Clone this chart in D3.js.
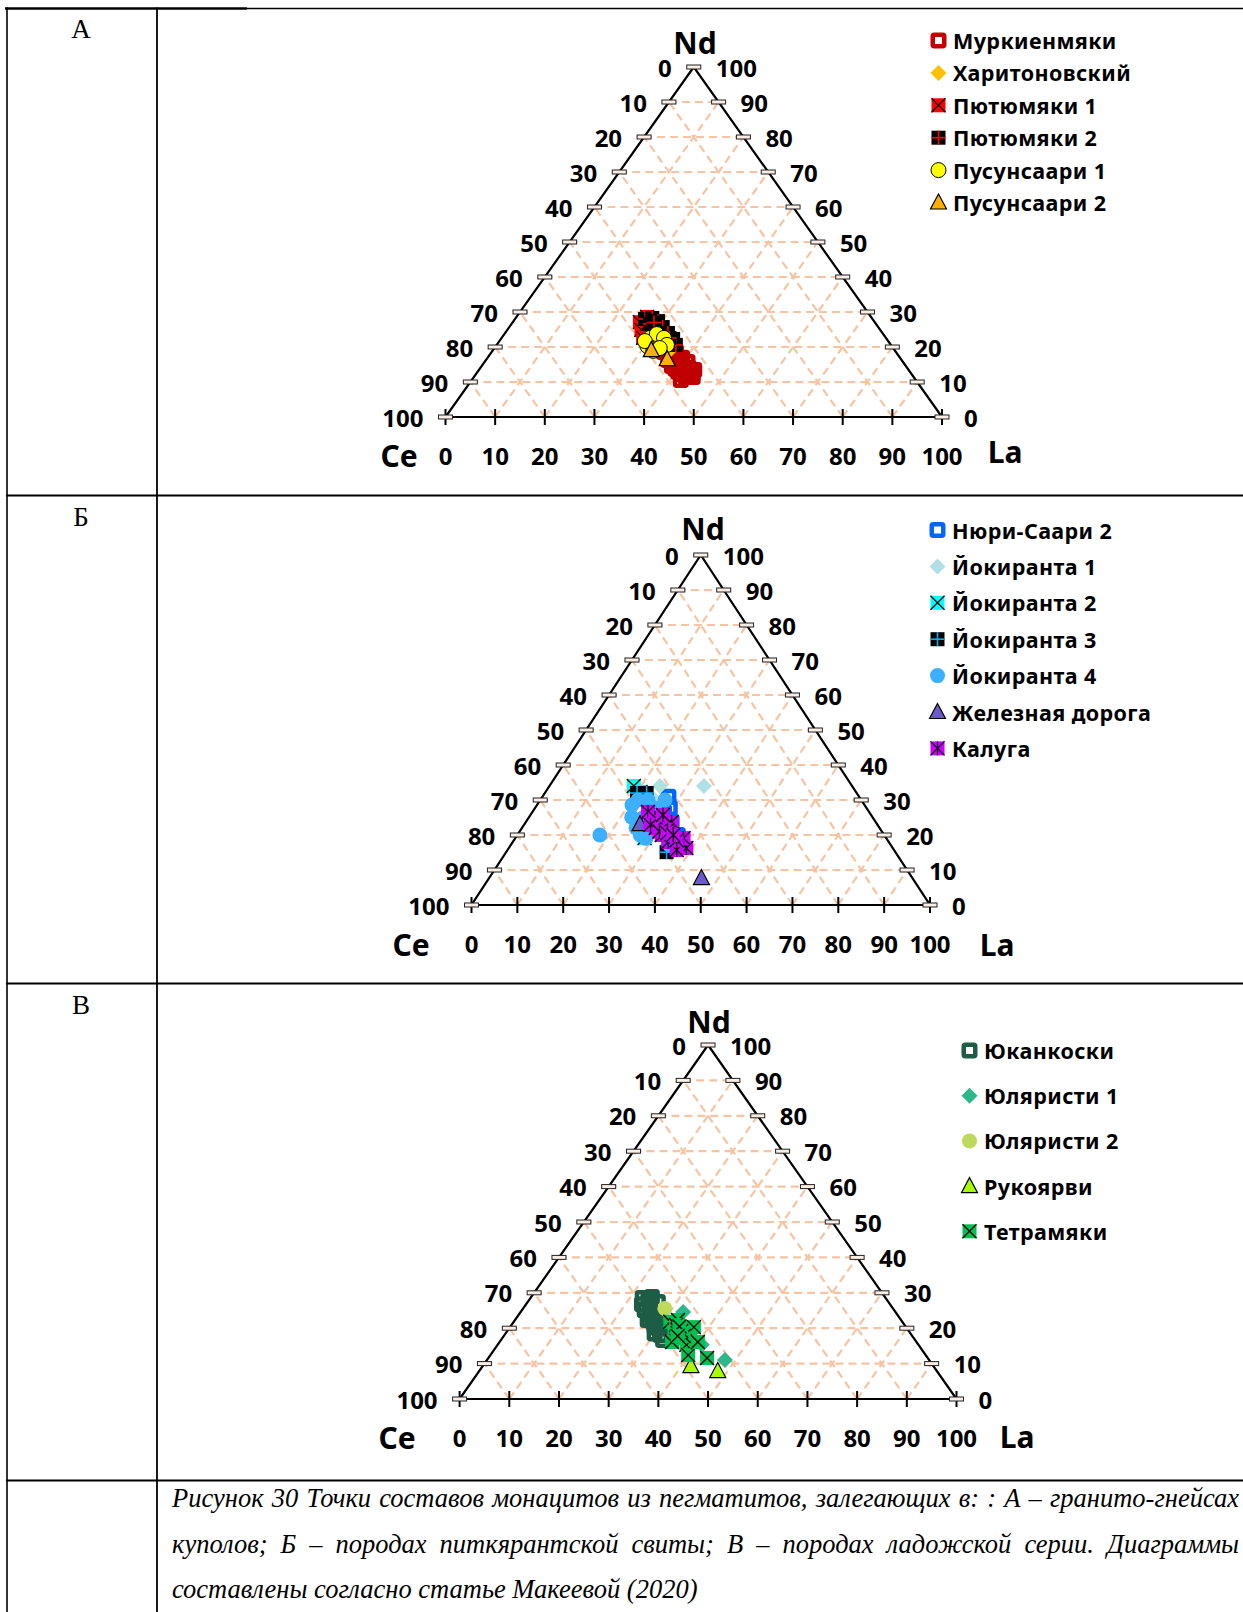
<!DOCTYPE html>
<html>
<head>
<meta charset="utf-8">
<script src="https://cdnjs.cloudflare.com/ajax/libs/d3/7.8.5/d3.min.js"></script>
<style>
    body { margin: 0; background: #fff; }
    svg { display: block; }
</style>
</head>
<body>
<div id="chart"></div>
<script>
// ---- data: every point is [Ce, La, Nd] (%) ----
var ticks = [0, 10, 20, 30, 40, 50, 60, 70, 80, 90, 100];

// Panel A
var namesA = ["Муркиенмяки", "Харитоновский", "Пютюмяки 1", "Пютюмяки 2", "Пусунсаари 1", "Пусунсаари 2"];
var murkienmyaki = [[46.7,34.7,18.6],[46.1,36.5,17.4],[45.6,38.1,16.3],[45.3,39.6,15.1],[44.8,41.2,14.0],
    [44.3,42.8,12.9],[44.5,44.1,11.4],[45.9,42.7,11.4],[46.7,40.4,12.9],[47.1,38.3,14.6],[47.0,36.7,16.3],
    [44.3,37.1,18.6],[43.9,39.2,16.9],[43.4,40.9,15.7],[43.2,43.4,13.4],[46.5,32.9,20.6],[47.3,42.1,10.6],
    [45.5,37.5,17.0],[44.6,40.0,15.4],[44.0,42.0,14.0],[45.0,43.2,11.8],[46.3,41.4,12.3],[46.8,39.4,13.8],
    [46.0,35.5,18.5]];
var kharitonovsky = [[45.8,32.2,22.0],[45.3,35.6,19.1]];
var pyutyumyaki1 = [[47.3,25.6,27.1],[48.1,27.0,24.9],[45.1,26.3,28.6],[48.9,28.5,22.6],[44.8,29.2,26.0]];
var pyutyumyaki2 = [[45.8,26.2,28.0],[44.2,27.5,28.3],[43.5,29.1,27.4],[43.4,30.9,25.7],[43.2,32.8,24.0],
    [43.0,34.7,22.3],[43.3,36.1,20.6],[45.5,27.9,26.6],[44.5,28.5,27.0],[43.6,33.8,22.6]];
var pusunsaari1 = [[47.5,29.9,22.6],[45.6,30.7,23.7],[44.7,32.7,22.6],[45.1,34.3,20.6],[49.2,30.5,20.3],
    [48.7,32.4,18.9],[47.0,33.3,19.7],[49.0,29.3,21.7]];
var pusunsaari2 = [[49.0,31.9,19.1],[47.1,36.4,16.5]];

// Panel B
var namesB = ["Нюри-Саари 2", "Йокиранта 1", "Йокиранта 2", "Йокиранта 3", "Йокиранта 4", "Железная дорога", "Калуга"];
var nyuriSaari2 = [[41.6,27.5,30.9],[42.9,29.4,27.7],[44.7,28.7,26.6],[44.5,31.8,23.7],[45.0,35.0,20.0]];
var yokiranta1 = [[32.3,33.7,34.0],[41.9,24.1,34.0],[45.0,25.0,30.0]];
var yokiranta2 = [[47.6,18.4,34.0],[47.0,20.7,32.3],[52.7,28.2,19.1],[50.6,25.1,24.3]];
var yokiranta3 = [[47.9,20.1,32.0],[45.8,22.2,32.0],[49.9,35.0,15.1],[48.2,30.4,21.4],[46.3,35.1,18.6]];
var yokiranta4 = [[62.0,18.0,20.0],[50.7,20.7,28.6],[48.7,21.3,30.0],[46.5,23.5,30.0],[46.2,26.1,27.7],
    [52.5,22.4,25.1],[53.1,24.9,22.0],[53.2,26.8,20.0],[52.4,28.5,19.1],[50.1,25.0,24.9],[48.8,27.5,23.7],
    [48.2,34.7,17.1],[42.8,27.2,30.0]];
var zheleznayaDoroga = [[46.0,46.3,7.7],[51.7,25.2,23.1]];
var kaluga = [[48.2,25.2,26.6],[47.5,27.6,24.9],[47.1,29.2,23.7],[46.8,31.2,22.0],[46.2,32.9,20.9],
    [46.1,34.8,19.1],[45.7,36.6,17.7],[45.0,38.7,16.3],[44.2,36.7,19.1],[48.5,31.5,20.0],[48.8,29.2,22.0],
    [48.1,33.9,18.0],[44.5,31.8,23.7],[49.5,27.6,22.9],[47.4,36.9,15.7],[45.4,28.9,25.7],[46.5,32.0,21.5],
    [46.3,33.5,20.2],[48.5,30.5,21.0],[46.0,35.5,18.5],[47.0,32.5,20.5],[46.0,34.0,20.0]];

// Panel C
var namesC = ["Юканкоски", "Юляристи 1", "Юляристи 2", "Рукоярви", "Тетрамяки"];
var yukankoski = [[48.9,22.6,28.5],[46.9,24.3,28.8],[46.4,26.2,27.4],[50.2,24.7,25.1],[51.0,26.7,22.3],
    [50.6,29.1,20.3],[50.6,31.3,18.1],[48.4,25.0,26.6],[49.9,23.3,26.8],[50.7,32.6,16.7],[49.5,26.8,23.7],
    [48.0,24.0,28.0],[49.0,25.5,25.5],[50.0,27.5,22.5],[50.2,28.3,21.5],[49.0,28.0,23.0],[51.5,30.0,18.5],
    [50.0,30.0,20.0]];
var yulyaristi1 = [[42.7,32.7,24.6],[41.1,47.9,11.0],[43.6,41.1,15.3]];
var yulyaristi2 = [[45.9,28.5,25.6]];
var rukoyarvi = [[48.8,41.9,9.3],[44.1,48.0,7.9]];
var tetramyaki = [[46.7,31.5,21.8],[44.9,32.8,22.3],[44.7,35.2,20.1],[44.5,37.4,18.1],[47.0,33.5,19.5],
    [47.0,35.8,17.2],[49.2,34.7,16.1],[46.7,38.0,15.3],[47.8,39.8,12.4],[44.4,44.0,11.6],[46.0,33.1,20.9],
    [45.9,35.5,18.6],[42.7,37.0,20.3],[44.0,39.9,16.1],[46.5,34.5,19.0],[46.2,34.0,19.8],[46.0,36.2,17.8],
    [46.2,34.9,18.9],[46.4,34.2,19.4],[45.8,35.0,19.2],[46.8,34.6,18.6],[45.5,34.0,20.5],[47.2,35.0,17.8]];

var captionLines = [
    "Рисунок 30 Точки составов монацитов из пегматитов, залегающих в: : А – гранито-гнейсах",
    "куполов; Б – породах питкярантской свиты; В – породах ладожской серии. Диаграммы",
    "составлены согласно статье Макеевой (2020)"
];

var LABEL_FONT = "'Noto Sans', sans-serif";

// draw one Excel-like marker into a <g> selection
function drawMarker(sel, st) {
    var h = 7;
    if (st.shape == "hollowSquare") {
        sel.append("rect").attr("x", -5.75).attr("y", -5.75).attr("width", 11.5).attr("height", 11.5)
            .attr("rx", 1.5).attr("fill", "none").attr("stroke", st.color).attr("stroke-width", 4.5);
    } else if (st.shape == "diamond") {
        sel.append("path").attr("d", "M0,-8L8,0L0,8L-8,0Z").attr("fill", st.color);
    } else if (st.shape == "circle") {
        sel.append("circle").attr("r", 7.5).attr("fill", st.color)
            .attr("stroke", st.stroke || "none").attr("stroke-width", 1);
    } else if (st.shape == "triangle") {
        sel.append("path").attr("d", "M0,-8.5L8,6.5L-8,6.5Z").attr("fill", st.color)
            .attr("stroke", "#000").attr("stroke-width", 1.2);
    } else {
        // filled square with a cross drawn on it
        sel.append("rect").attr("x", -h).attr("y", -h).attr("width", 2 * h).attr("height", 2 * h)
            .attr("fill", st.color);
        var segs = [];
        if (st.shape == "xSquare" || st.shape == "starSquare") {
            segs.push([-h, -h, h, h]); segs.push([-h, h, h, -h]);
        }
        if (st.shape == "starSquare") segs.push([0, -h, 0, h]);
        if (st.shape == "plusSquare") {
            segs.push([0, -h, 0, h]); segs.push([-h, 0, h, 0]);
        }
        segs.forEach(function(s) {
            sel.append("line").attr("x1", s[0]).attr("y1", s[1]).attr("x2", s[2]).attr("y2", s[3])
                .attr("stroke", st.cross || "#000").attr("stroke-width", st.shape == "plusSquare" ? 1.6 : 1.3);
        });
    }
}

// constructor function
TernaryPlot = function(_svg, _box, _series) {
    this.svg = _svg;
    this.box = _box;
    this.series = _series;

    this.initVis();
}

TernaryPlot.prototype.initVis = function() {
    var vis = this;
    var b = vis.box;

    vis.xs = d3.scaleLinear().domain([0, 100]).range([b.left, b.right]);
    vis.ys = d3.scaleLinear().domain([0, 100]).range([b.base, b.top]);

    vis.pos = function(d) {
        var t = d[0] + d[1] + d[2];
        var la = d[1] / t * 100, nd = d[2] / t * 100;
        return [vis.xs(la + nd / 2), vis.ys(nd)];
    };

    vis.g = vis.svg.append("g");

    // grid
    var grid = vis.g.append("g").attr("class", "grid");
    var inner = ticks.filter(function(v) { return v > 0 && v < 100; });
    var segs = [];
    inner.forEach(function(v) {
        segs.push([[100 - v, 0, v], [0, 100 - v, v]]);     // Nd = v
        segs.push([[100 - v, v, 0], [0, v, 100 - v]]);     // La = v
        segs.push([[v, 100 - v, 0], [v, 0, 100 - v]]);     // Ce = v
    });
    grid.selectAll("line").data(segs).enter().append("line")
        .attr("x1", function(d) { return vis.pos(d[0])[0]; })
        .attr("y1", function(d) { return vis.pos(d[0])[1]; })
        .attr("x2", function(d) { return vis.pos(d[1])[0]; })
        .attr("y2", function(d) { return vis.pos(d[1])[1]; })
        .attr("stroke", "#F6C4A2").attr("stroke-width", 2.2)
        .attr("stroke-dasharray", "8,5");

    // frame
    var A = vis.pos([100, 0, 0]), B = vis.pos([0, 100, 0]), C = vis.pos([0, 0, 100]);
    vis.g.append("path")
        .attr("d", "M" + A + "L" + B + "L" + C + "Z")
        .attr("fill", "none").attr("stroke", "#000").attr("stroke-width", 2.2)
        .attr("stroke-linejoin", "miter");

    // bottom ticks (La)
    vis.g.append("g").selectAll("line").data(ticks).enter().append("line")
        .attr("x1", function(d) { return vis.xs(d); }).attr("x2", function(d) { return vis.xs(d); })
        .attr("y1", b.base - 8).attr("y2", b.base + 8)
        .attr("stroke", "#000").attr("stroke-width", 2);

    // side ticks (small bars)
    var sideTicks = [];
    ticks.forEach(function(v) {
        sideTicks.push(vis.pos([100 - v, 0, v]));
        if (v < 100) sideTicks.push(vis.pos([0, 100 - v, v]));
    });
    vis.g.append("g").selectAll("rect").data(sideTicks).enter().append("rect")
        .attr("x", function(d) { return d[0] - 7; }).attr("y", function(d) { return d[1] - 2; })
        .attr("width", 14).attr("height", 4)
        .attr("fill", "#fbeee6").attr("stroke", "#222").attr("stroke-width", 1);

    // tick labels
    var lab = vis.g.append("g")
        .attr("font-family", LABEL_FONT).attr("font-weight", "bold").attr("font-size", "24px")
        .attr("fill", "#000");
    lab.selectAll("text.bot").data(ticks).enter().append("text").attr("class", "bot")
        .attr("x", function(d) { return vis.xs(d); }).attr("y", b.base + 38)
        .attr("text-anchor", "middle").attr("dominant-baseline", "central")
        .text(function(d) { return d; });
    lab.selectAll("text.lft").data(ticks).enter().append("text").attr("class", "lft")
        .attr("x", function(d) { return vis.pos([100 - d, 0, d])[0] - 22; })
        .attr("y", function(d) { return vis.ys(d); })
        .attr("text-anchor", "end").attr("dominant-baseline", "central")
        .text(function(d) { return 100 - d; });
    lab.selectAll("text.rgt").data(ticks).enter().append("text").attr("class", "rgt")
        .attr("x", function(d) { return vis.pos([0, 100 - d, d])[0] + 22; })
        .attr("y", function(d) { return vis.ys(d); })
        .attr("text-anchor", "start").attr("dominant-baseline", "central")
        .text(function(d) { return d; });

    // axis names
    var names = [["Nd", b.nd], ["Ce", b.ce], ["La", b.la]];
    vis.g.append("g").selectAll("text").data(names).enter().append("text")
        .attr("x", function(d) { return d[1][0]; }).attr("y", function(d) { return d[1][1]; })
        .attr("text-anchor", "middle").attr("dominant-baseline", "central")
        .attr("font-family", LABEL_FONT).attr("font-weight", "bold").attr("font-size", "30px")
        .text(function(d) { return d[0]; });

    // points, in series order (later series on top)
    vis.series.forEach(function(s) {
        var pts = vis.g.append("g").selectAll("g").data(s.data).enter().append("g")
            .attr("transform", function(d) { return "translate(" + vis.pos(d) + ")"; });
        drawMarker(pts, s.style);
    });

    // legend
    var leg = vis.g.append("g").attr("class", "legend");
    vis.series.forEach(function(s, i) {
        var y = b.legY + i * b.legDy;
        var m = leg.append("g").attr("transform", "translate(" + b.legX + "," + y + ")");
        drawMarker(m, s.style);
        leg.append("text")
            .attr("x", b.legX + 14.5).attr("y", y)
            .attr("dominant-baseline", "central")
            .attr("font-family", LABEL_FONT).attr("font-weight", "bold").attr("font-size", "21.5px")
            .attr("letter-spacing", "0.4px")
            .text(s.name);
    });
}

// ---- page ----
var svg = d3.select("#chart").append("svg").attr("width", 1243).attr("height", 1612);
svg.append("rect").attr("width", 1243).attr("height", 1612).attr("fill", "#fff");

// table frame
var frame = svg.append("g").attr("stroke", "#000");
frame.append("line").attr("x1", 5).attr("x2", 247).attr("y1", 8.5).attr("y2", 8.5).attr("stroke-width", 2.6);
frame.append("line").attr("x1", 247).attr("x2", 1243).attr("y1", 8.5).attr("y2", 8.5).attr("stroke-width", 1.5);
[495.5, 983.5, 1480.5].forEach(function(y) {
    frame.append("line").attr("x1", 6).attr("x2", 1243).attr("y1", y).attr("y2", y).attr("stroke-width", 1.8);
});
frame.append("line").attr("x1", 7).attr("x2", 7).attr("y1", 7.5).attr("y2", 1612).attr("stroke-width", 1.6);
frame.append("line").attr("x1", 157).attr("x2", 157).attr("y1", 7.5).attr("y2", 1612).attr("stroke-width", 1.8);

// panel letters
svg.append("g").selectAll("text").data([["А", 38], ["Б", 526], ["В", 1014]]).enter().append("text")
    .attr("x", 81).attr("y", function(d) { return d[1]; })
    .attr("text-anchor", "middle")
    .attr("font-family", "'Liberation Serif', serif").attr("font-size", "27px")
    .text(function(d) { return d[0]; });

function series(names, arrays, styles) {
    return names.map(function(n, i) { return {name: n, data: arrays[i], style: styles[i]}; });
}

new TernaryPlot(svg,
    {left: 445.5, right: 942, base: 417, top: 67, nd: [695, 42], ce: [399, 455], la: [1005, 451],
     legX: 938.5, legY: 40.5, legDy: 32.4},
    series(namesA, [murkienmyaki, kharitonovsky, pyutyumyaki1, pyutyumyaki2, pusunsaari1, pusunsaari2], [
        {shape: "hollowSquare", color: "#C00000"},
        {shape: "diamond", color: "#FFC000"},
        {shape: "xSquare", color: "#FF0000"},
        {shape: "plusSquare", color: "#000", cross: "#FF0000"},
        {shape: "circle", color: "#FFFF00", stroke: "#000"},
        {shape: "triangle", color: "#FFB000"}
    ]));

new TernaryPlot(svg,
    {left: 471.5, right: 930, base: 905, top: 555, nd: [703, 528], ce: [411, 944], la: [997, 944],
     legX: 937.5, legY: 530, legDy: 36.4},
    series(namesB, [nyuriSaari2, yokiranta1, yokiranta2, yokiranta3, yokiranta4, zheleznayaDoroga, kaluga], [
        {shape: "hollowSquare", color: "#0066FF"},
        {shape: "diamond", color: "#B0DFE5"},
        {shape: "xSquare", color: "#00FFFF"},
        {shape: "plusSquare", color: "#000", cross: "#00B0F0"},
        {shape: "circle", color: "#3CB0FF"},
        {shape: "triangle", color: "#6A5ACD"},
        {shape: "starSquare", color: "#CC00FF"}
    ]));

new TernaryPlot(svg,
    {left: 459.6, right: 956.5, base: 1399, top: 1045, nd: [709, 1021], ce: [397, 1437], la: [1017, 1436],
     legX: 969.5, legY: 1050.5, legDy: 45.2},
    series(namesC, [yukankoski, yulyaristi1, yulyaristi2, rukoyarvi, tetramyaki], [
        {shape: "hollowSquare", color: "#1F5C45"},
        {shape: "diamond", color: "#2DB88A"},
        {shape: "circle", color: "#BFDA5A"},
        {shape: "triangle", color: "#A6FF00"},
        {shape: "xSquare", color: "#00C050"}
    ]));

// caption, first two lines justified
var cap = svg.append("g")
    .attr("font-family", "'Liberation Serif', serif").attr("font-style", "italic").attr("font-size", "26.5px");
captionLines.forEach(function(line, i) {
    var t = cap.append("text").attr("x", 172).attr("y", 1507 + i * 45.5).text(line);
    if (i < 2) {
        var len = t.node().getComputedTextLength();
        var gaps = line.split(" ").length - 1;
        t.attr("word-spacing", (1239 - 172 - len) / gaps);
    }
});
</script>
</body>
</html>
